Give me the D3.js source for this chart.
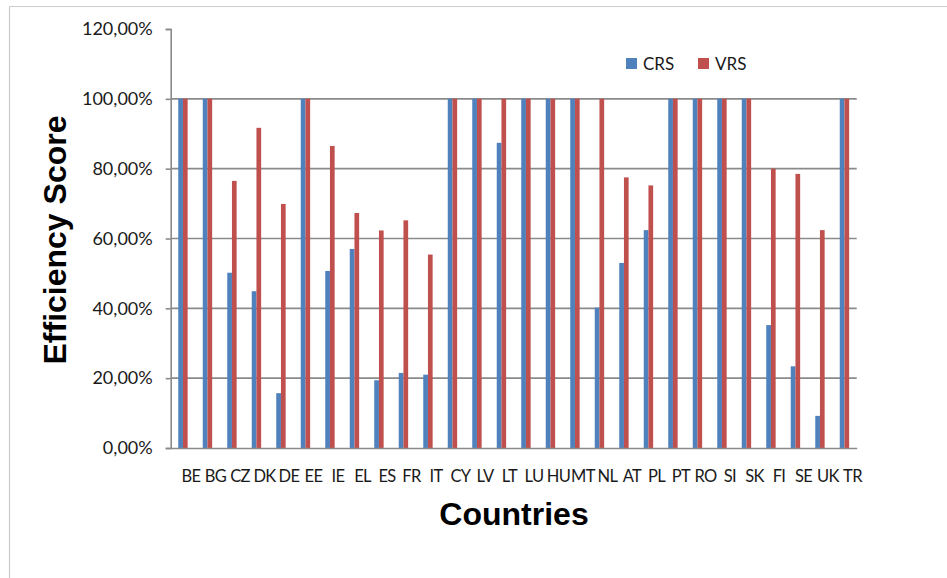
<!DOCTYPE html>
<html><head><meta charset="utf-8">
<script src="https://cdn.jsdelivr.net/npm/d3@7"></script>
<style>body{margin:0;background:#fff}svg{display:block}</style>
</head><body>
<svg id="c" width="947" height="578"></svg>
<script>
const categories = ["BE","BG","CZ","DK","DE","EE","IE","EL","ES","FR","IT","CY","LV","LT","LU","HU","MT","NL","AT","PL","PT","RO","SI","SK","FI","SE","UK","TR"];
const crs = [100,100,50.2,44.9,15.7,100,50.7,57.0,19.4,21.5,21.0,100,100,87.4,100,100,100,40.2,53.0,62.4,100,100,100,100,35.2,23.4,9.2,100];
const vrs = [100,100,76.5,91.7,69.9,100,86.5,67.3,62.3,65.2,55.4,100,100,100,100,100,100,100,77.5,75.2,100,100,100,100,80.0,78.5,62.4,100];
const seriesNames = ["CRS","VRS"];
const yTicks = [0,20,40,60,80,100,120];
const colors = {CRS:"#4F81BD", VRS:"#C0504D"};

(function(){
const svg = d3.select("#c");
const pL = 170.7, pR = 856.7, pT = 29, pB = 448;

// chart frame
svg.append("rect").attr("x",9.5).attr("y",6.5).attr("width",960).attr("height",600)
  .attr("fill","none").attr("stroke","#9a9a9a").attr("stroke-width",1.2).attr("stroke-dasharray","1,1");

const x = d3.scaleBand().domain(categories).range([pL,pR]).padding(0);
const xs = d3.scaleBand().domain(seriesNames).range([-4.7,4.7]).padding(0);
const y = d3.scaleLinear().domain([0,120]).range([pB,pT]);

// gridlines
svg.append("g").selectAll("line").data(yTicks.filter(t=>t>0 && t<120)).join("line")
  .attr("x1",pL).attr("x2",pR).attr("y1",d=>y(d)).attr("y2",d=>y(d))
  .attr("stroke","#8a8a8a").attr("stroke-width",1.6);

// bars
const data = categories.map((c,i)=>({c, CRS:crs[i], VRS:vrs[i]}));
const g = svg.append("g");
g.selectAll("g").data(data).join("g")
  .attr("transform",d=>`translate(${x(d.c)+x.bandwidth()/2},0)`)
  .selectAll("rect").data(d=>seriesNames.map(s=>({s,v:d[s]}))).join("rect")
  .attr("x",d=>xs(d.s)).attr("width",xs.bandwidth())
  .attr("y",d=>y(d.v)).attr("height",d=>pB-y(d.v))
  .attr("fill",d=>colors[d.s]);

// y axis
const yAxis = d3.axisLeft(y).tickValues(yTicks).tickSize(5).tickPadding(13)
  .tickFormat(d=>d3.format(".2f")(d).replace(".",",")+"%");
const ya = svg.append("g").attr("transform",`translate(${pL},0)`).call(yAxis);
ya.select(".domain").attr("stroke","#8a8a8a").attr("stroke-width",1.6);
ya.selectAll(".tick line").attr("stroke","#8a8a8a").attr("stroke-width",1.6);
ya.selectAll("text").attr("font-family","Lato").attr("font-size",18).attr("fill","#1a1a1a");

// x axis
const xAxis = d3.axisBottom(x).tickSize(0).tickPadding(22);
const xa = svg.append("g").attr("transform",`translate(0,${pB})`).call(xAxis);
xa.select(".domain").attr("stroke","#8a8a8a").attr("stroke-width",1.6);
xa.selectAll("text").attr("font-family","Lato").attr("font-size",16.5).attr("letter-spacing","-0.7")
  .attr("fill","#1a1a1a").attr("dx",8);

// axis titles
svg.append("text").attr("transform","translate(66,240) rotate(-90)").attr("text-anchor","middle")
  .attr("font-family","Liberation Sans").attr("font-weight","bold").attr("font-size",32).attr("fill","#000")
  .text("Efficiency Score");
svg.append("text").attr("x",514).attr("y",525).attr("text-anchor","middle")
  .attr("font-family","Liberation Sans").attr("font-weight","bold").attr("font-size",32).attr("fill","#000")
  .text("Countries");

// legend
const leg = svg.append("g");
const lx = [626, 698];
seriesNames.forEach((s,i)=>{
  leg.append("rect").attr("x",lx[i]).attr("y",58).attr("width",11).attr("height",11).attr("fill",colors[s]);
  leg.append("text").attr("x",lx[i]+17).attr("y",69.5).attr("font-family","Lato").attr("font-size",17).attr("fill","#1a1a1a").text(s);
});
})();
</script>
</body></html>
